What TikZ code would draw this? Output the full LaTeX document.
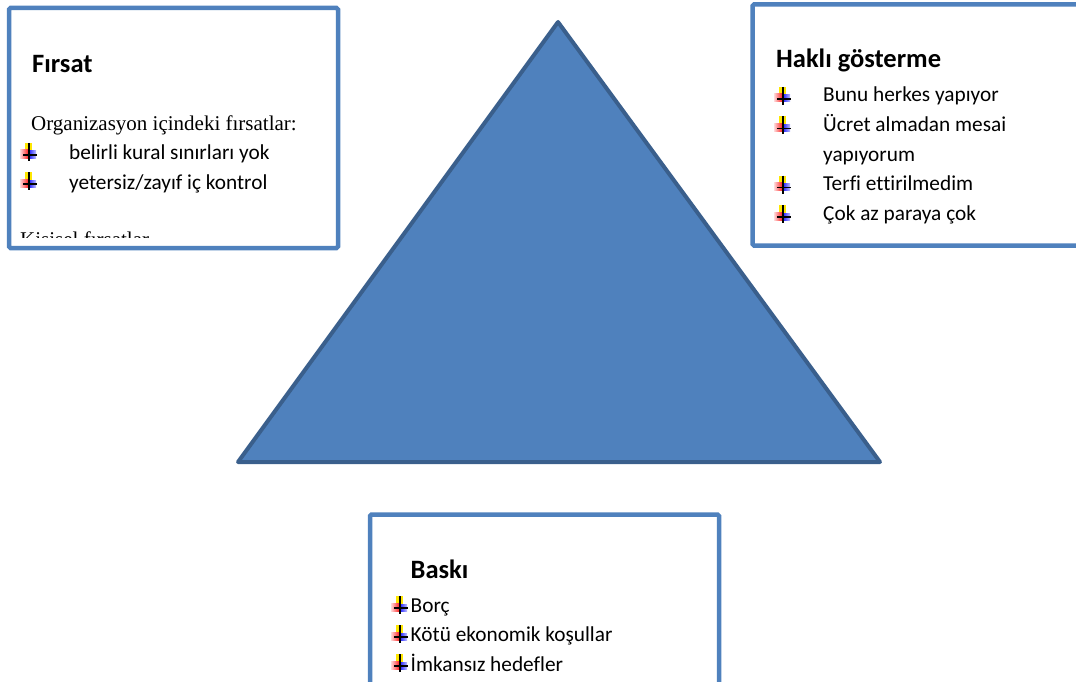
\documentclass[tikz,border=0pt]{standalone}
\usepackage{fontspec}
\setmainfont[Ligatures={NoCommon}]{Carlito}
\newfontfamily\timesfont{Liberation Serif}
\usetikzlibrary{positioning}

\definecolor{boxblue}{HTML}{4F81BD}
\definecolor{triedge}{HTML}{3A5F8C}

\begin{document}
\begin{tikzpicture}[x=1pt, y=-1pt,
  panel/.style={draw=boxblue, line width=4.5pt, rounded corners=1.5pt, fill=white, anchor=north west, inner sep=0pt, outer sep=0pt},
  tri/.style={draw=triedge, fill=boxblue, line width=4pt, line join=round},
  head/.style={anchor=base west, inner sep=0pt, font=\fontsize{26.5}{30}\selectfont\bfseries},
  item/.style={anchor=base west, inner sep=0pt, font=\fontsize{21.3}{25}\selectfont},
  serif/.style={anchor=base west, inner sep=0pt, font=\fontsize{21}{25}\selectfont\timesfont},
  wbullet/.pic={
    \fill[yellow!90!orange] (-4,-12) rectangle (3,-4);
    \shade[left color=red!15, right color=red!85] (-9,-5) rectangle (-1,3);
    \shade[left color=blue!95, right color=blue!25] (-1,-4) rectangle (7,3);
    \draw[line width=1.2pt] (0,-12) -- (0,6);
    \draw[line width=1.2pt] (-6,0) -- (8,0);
  },
]
\useasboundingbox (0,0) rectangle (1076,682);

% triangle
\coordinate (apex) at (558,22);
\coordinate (baseL) at (238,462);
\coordinate (baseR) at (880,462);
\draw[tri] (apex) -- (baseL) -- (baseR) -- cycle;

% Firsat
\node[panel, minimum width=329pt, minimum height=240pt] (firsat) at (9,8) {};
\node[head] (firsatT) at (32,73) {Fırsat};
\node[serif] (org) at (31,131) {Organizasyon içindeki fırsatlar:};
\pic at (29,155) {wbullet};
\node[item] (f1) at (69,160) {belirli kural sınırları yok};
\pic at (29,184) {wbullet};
\node[item] (f2) at (69,189.5) {yetersiz/zayıf iç kontrol};
\begin{scope}
  \clip (12,200) rectangle (335,237);
  \node[serif] (kisisel) at (20,246) {Kişisel fırsatlar};
\end{scope}

% Hakli gosterme
\node[panel, minimum width=348pt, minimum height=241pt] (hakli) at (752.5,4.5) {};
\node[head] (hakliT) at (776,68) {Haklı gösterme};
\pic at (783,99) {wbullet};
\node[item] (h1) at (823,102) {Bunu herkes yapıyor};
\pic at (783,128.5) {wbullet};
\node[item] (h2) at (823,131.5) {Ücret almadan mesai};
\node[item] (h2b) at (823,161) {yapıyorum};
\pic at (783,187.5) {wbullet};
\node[item] (h3) at (823,190.5) {Terfi ettirilmedim};
\pic at (783,217) {wbullet};
\node[item] (h4) at (823,220) {Çok az paraya çok};

% Baski
\node[panel, minimum width=349pt, minimum height=190pt] (baski) at (370,514.5) {};
\node[head] (baskiT) at (410.5,578) {Baskı};
\pic at (400,608) {wbullet};
\node[item] (b1) at (410.5,612) {Borç};
\pic at (400,637) {wbullet};
\node[item] (b2) at (410.5,641) {Kötü ekonomik koşullar};
\pic at (400,666) {wbullet};
\node[item] (b3) at (410.5,671) {İmkansız hedefler};
\end{tikzpicture}
\end{document}
